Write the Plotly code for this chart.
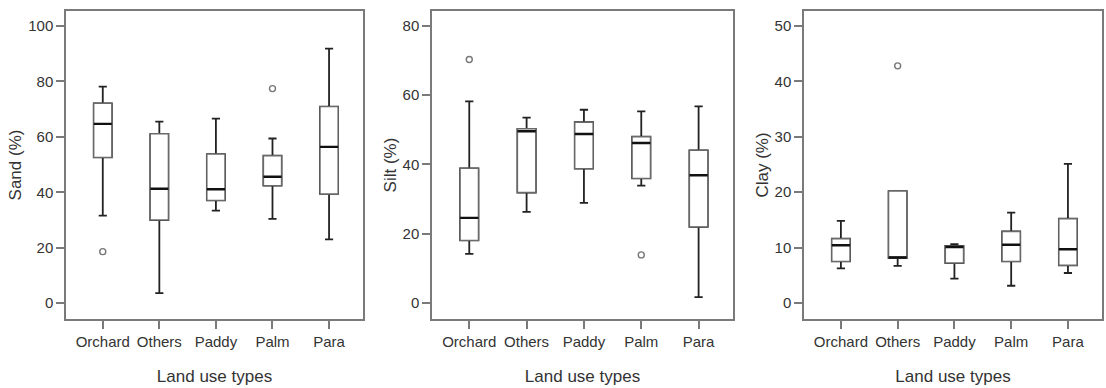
import plotly.graph_objects as go

categories = ["Orchard", "Others", "Paddy", "Palm", "Para"]

# Sand (%)
sand_lower = [31.6, 3.6, 33.4, 30.4, 23.0]
sand_q1 = [52.6, 30.0, 37.1, 42.4, 39.4]
sand_median = [64.7, 41.3, 41.1, 45.6, 56.4]
sand_q3 = [72.1, 61.1, 53.8, 53.2, 70.9]
sand_upper = [78.1, 65.5, 66.6, 59.4, 91.8]
sand_out_cat = ["Orchard", "Palm"]
sand_out_val = [18.6, 77.4]

# Silt (%)
silt_lower = [14.2, 26.3, 28.9, 33.9, 1.7]
silt_q1 = [18.1, 31.9, 38.8, 36.0, 22.0]
silt_median = [24.6, 49.6, 48.8, 46.2, 36.9]
silt_q3 = [38.9, 50.3, 52.2, 48.0, 44.1]
silt_upper = [58.2, 53.5, 55.8, 55.3, 56.8]
silt_out_cat = ["Orchard", "Palm"]
silt_out_val = [70.3, 13.9]

# Clay (%)
clay_lower = [6.25, 6.7, 4.4, 3.1, 5.4]
clay_q1 = [7.5, 8.1, 7.2, 7.5, 6.8]
clay_median = [10.4, 8.2, 10.1, 10.5, 9.7]
clay_q3 = [11.6, 20.2, 10.3, 12.9, 15.2]
clay_upper = [14.8, 20.2, 10.6, 16.3, 25.1]
clay_out_cat = ["Others"]
clay_out_val = [42.8]

y_titles = ["Sand (%)", "Silt (%)", "Clay (%)"]
y_tickvals = [[0, 20, 40, 60, 80, 100], [0, 20, 40, 60, 80], [0, 10, 20, 30, 40, 50]]
y_ranges = [[-5.7, 105.4], [-4.6, 84.3], [-2.9, 52.7]]
x_title = "Land use types"

panels = [
    (sand_lower, sand_q1, sand_median, sand_q3, sand_upper, sand_out_cat, sand_out_val),
    (silt_lower, silt_q1, silt_median, silt_q3, silt_upper, silt_out_cat, silt_out_val),
    (clay_lower, clay_q1, clay_median, clay_q3, clay_upper, clay_out_cat, clay_out_val),
]

W, H = 1106, 388
frames_x = [(66, 363), (432, 733), (804, 1102)]
frame_y = (11, 319)

FONT = "Liberation Sans, Arial, sans-serif"
fig = go.Figure()
pos = list(range(len(categories)))
BOXW = 0.32

for i, (lo, q1, med, q3, up, oc, ov) in enumerate(panels):
    xa = "x" if i == 0 else f"x{i+1}"
    ya = "y" if i == 0 else f"y{i+1}"
    # whiskers
    fig.add_trace(go.Box(x=pos, q1=q1, median=med, q3=q3, lowerfence=lo, upperfence=up,
                         width=BOXW, whiskerwidth=0.45, fillcolor="white",
                         line=dict(color="#222222", width=1.8), boxpoints=False,
                         xaxis=xa, yaxis=ya, showlegend=False, hoverinfo="skip"))
    # box body
    fig.add_trace(go.Box(x=pos, q1=q1, median=med, q3=q3, lowerfence=q1, upperfence=q3,
                         width=BOXW, whiskerwidth=0, fillcolor="white",
                         line=dict(color="#6a6a6a", width=1.4), boxpoints=False,
                         xaxis=xa, yaxis=ya, showlegend=False, hoverinfo="skip"))
    # median
    fig.add_trace(go.Box(x=pos, q1=med, median=med, q3=med, lowerfence=med, upperfence=med,
                         width=BOXW, whiskerwidth=0, fillcolor="rgba(0,0,0,0)",
                         line=dict(color="#111111", width=2.4), boxpoints=False,
                         xaxis=xa, yaxis=ya, showlegend=False, hoverinfo="skip"))
    # outliers
    fig.add_trace(go.Scatter(x=[categories.index(c) for c in oc], y=ov, mode="markers",
                             marker=dict(symbol="circle-open", size=6, color="#777777",
                                         line=dict(width=1.4)),
                             xaxis=xa, yaxis=ya, showlegend=False, hoverinfo="skip"))

    x0, x1 = frames_x[i]
    axis_common = dict(showline=True, linecolor="#7a7a7a", linewidth=1.5, mirror=True,
                       showgrid=False, zeroline=False, ticks="outside", ticklen=8,
                       tickcolor="#7a7a7a", tickwidth=1.5)
    fig.layout[f"xaxis{'' if i == 0 else i+1}"] = dict(
        axis_common, domain=[x0 / W, x1 / W], anchor=ya, range=[-0.65, 4.6],
        tickvals=pos, ticktext=categories, tickangle=0,
        tickfont=dict(family=FONT, size=15, color="#333333"),
        title=dict(text=x_title, font=dict(family=FONT, size=17, color="#333333"), standoff=21))
    fig.layout[f"yaxis{'' if i == 0 else i+1}"] = dict(
        axis_common, domain=[(H - frame_y[1]) / H, (H - frame_y[0]) / H], anchor=xa,
        range=y_ranges[i], tickvals=y_tickvals[i],
        tickfont=dict(family=FONT, size=15, color="#333333"),
        title=dict(text=y_titles[i], font=dict(family=FONT, size=17, color="#333333"), standoff=2))

fig.update_layout(width=W, height=H, margin=dict(l=0, r=0, t=0, b=0),
                  paper_bgcolor="white", plot_bgcolor="white", boxmode="overlay")
fig.write_html("out.html")
